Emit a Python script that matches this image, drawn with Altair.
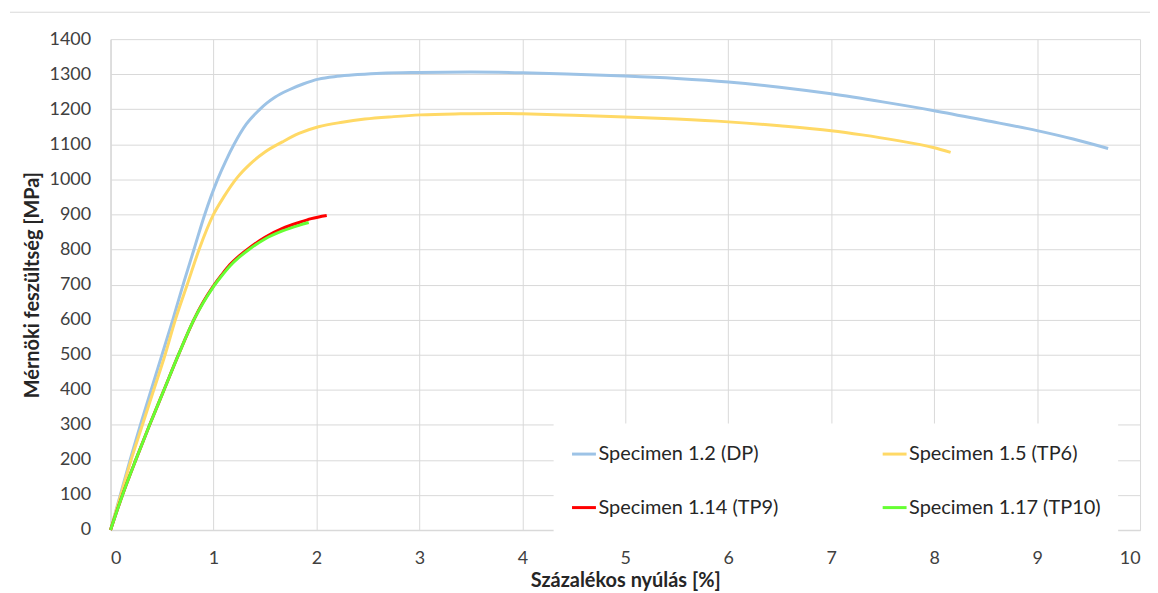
import altair as alt
import pandas as pd

series_names = ["Specimen 1.2 (DP)", "Specimen 1.5 (TP6)", "Specimen 1.14 (TP9)", "Specimen 1.17 (TP10)"]
series_colors = ["#9dc3e6", "#ffd966", "#ff0000", "#66ff33"]

dp_x = [0, 0.095, 0.19, 0.29, 0.395, 0.5, 0.605, 0.71, 0.81, 0.915, 1.04, 1.12, 1.2, 1.32, 1.44, 1.52, 1.6, 1.73, 1.87, 2.02, 2.2, 2.4, 2.63, 3.0, 3.5, 4.0, 4.5, 5.0, 5.5, 6.0, 6.5, 7.0, 7.5, 8.0, 8.5, 9.0, 9.35, 9.69]
dp_y = [0, 100, 200, 300, 400, 500, 600, 705, 800, 900, 1000, 1053, 1100, 1158, 1197, 1218, 1235, 1255, 1272, 1286, 1294, 1299, 1303, 1305, 1306, 1304, 1300, 1295, 1288, 1278, 1263, 1244, 1221, 1196, 1168, 1139, 1115, 1088]

tp6_x = [0, 0.1, 0.2, 0.31, 0.42, 0.53, 0.63, 0.745, 0.86, 1.0, 1.1, 1.23, 1.36, 1.5, 1.67, 1.83, 2.02, 2.25, 2.47, 2.75, 3.01, 3.4, 3.75, 4.0, 4.5, 5.0, 5.5, 6.0, 6.5, 7.0, 7.3, 7.62, 7.99, 8.16]
tp6_y = [0, 100, 200, 300, 400, 500, 600, 700, 800, 900, 950, 1005, 1045, 1078, 1107, 1131, 1150, 1163, 1172, 1179, 1184, 1187, 1188, 1187, 1183, 1178, 1172, 1164, 1153, 1139, 1127, 1112, 1091, 1077]

tp9_x = [0, 0.116, 0.245, 0.38, 0.52, 0.66, 0.81, 0.9, 0.99, 1.08, 1.16, 1.25, 1.345, 1.5, 1.67, 1.83, 1.95, 2.1]
tp9_y = [0, 100, 200, 300, 400, 500, 600, 650, 692, 728, 757, 782, 804, 835, 860, 877, 888, 897]

tp10_x = [0, 0.116, 0.245, 0.38, 0.52, 0.66, 0.81, 0.9, 0.99, 1.08, 1.16, 1.25, 1.345, 1.5, 1.67, 1.83, 1.925]
tp10_y = [0, 100, 200, 300, 400, 500, 600, 648, 690, 725, 753, 778, 800, 830, 853, 869, 877]

x_ticks = list(range(0, 11))
y_ticks = list(range(0, 1401, 100))

rows = []
for name, xs, ys in zip(series_names, [dp_x, tp6_x, tp9_x, tp10_x], [dp_y, tp6_y, tp9_y, tp10_y]):
    for i, (a, b) in enumerate(zip(xs, ys)):
        rows.append({"series": name, "x": a, "y": b, "i": i})
df = pd.DataFrame(rows)

FONT = "Lato"

lines = alt.Chart(df).mark_line(strokeWidth=3, interpolate="monotone").encode(
    x=alt.X("x:Q", scale=alt.Scale(domain=[0, 10], nice=False),
            axis=alt.Axis(values=x_ticks, format="d", title="Százalékos nyúlás [%]")),
    y=alt.Y("y:Q", scale=alt.Scale(domain=[0, 1400], nice=False),
            axis=alt.Axis(values=y_ticks, format="d", title="Mérnöki feszültség [MPa]")),
    color=alt.Color("series:N",
                    scale=alt.Scale(domain=series_names, range=series_colors),
                    sort=series_names,
                    legend=alt.Legend(
                        title=None, orient="none", legendX=445, legendY=386,
                        columns=2, direction="horizontal",
                        columnPadding=98, rowPadding=30,
                        symbolType="stroke", symbolSize=576, symbolStrokeWidth=3,
                        labelFont=FONT, labelFontSize=20, labelColor="#262626",
                        labelLimit=400, labelOffset=1, padding=17, fillColor="white")),
    order=alt.Order("i:Q"),
)

top_line = alt.Chart(pd.DataFrame({"a": [0]})).mark_rule(color="#d9d9d9", strokeWidth=1).encode(
    x=alt.value(-101), x2=alt.value(1060), y=alt.value(-27)
)

chart = alt.layer(top_line, lines).properties(
    width=1034, height=493,
    autosize=alt.AutoSizeParams(type="none"),
    padding={"left": 103, "top": 30, "right": 10, "bottom": 60},
).configure_view(stroke=None).configure_axis(
    grid=True, gridColor="#d9d9d9", gridWidth=1,
    domainColor="#d9d9d9", domainWidth=1.5,
    ticks=False, tickSize=0,
    labelFont=FONT, labelFontSize=18, labelColor="#404040", labelPadding=20,
    titleFont=FONT, titleFontSize=20, titleFontWeight="bold", titleColor="#262626",
).configure_axisX(titlePadding=3).configure_axisY(titlePadding=7)

chart.save("out.html", embed_options={"renderer": "svg", "actions": False})
